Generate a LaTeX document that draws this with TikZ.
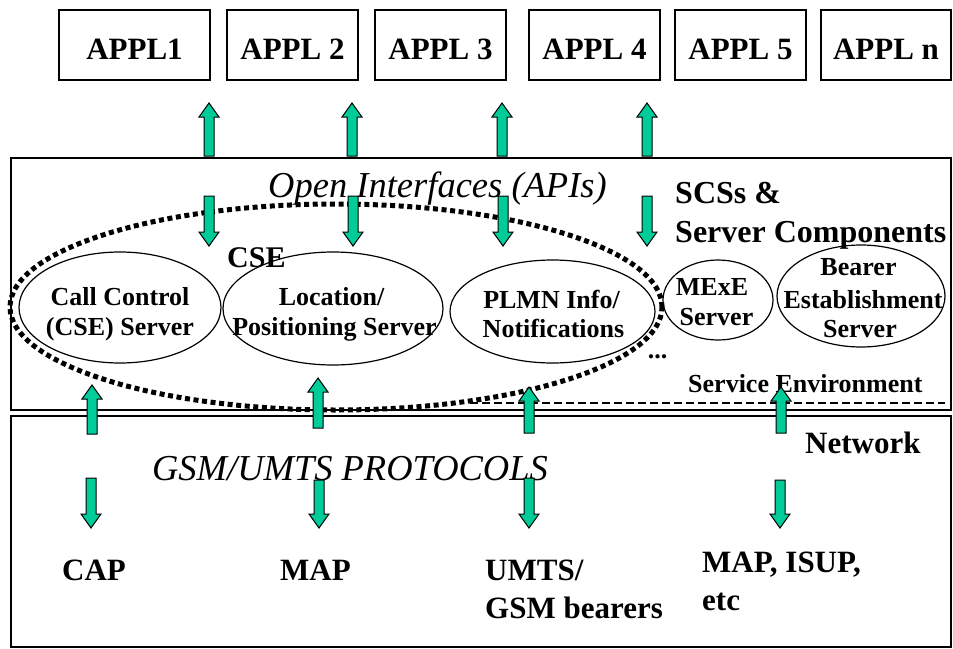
\documentclass[tikz,border=0pt]{standalone}
\usepackage{fontspec}
\setmainfont{Liberation Serif}
\usetikzlibrary{shapes.geometric}
\definecolor{arrgreen}{RGB}{0,204,153}
\newcommand\UpArr[3]{%
  \draw[blk] ({#1-5},#2) -- ({#1-5},{#3+14}) -- ({#1-10},{#3+14}) -- (#1,#3) -- ({#1+10},{#3+14}) -- ({#1+5},{#3+14}) -- ({#1+5},#2) -- cycle;}
\newcommand\DnArr[3]{%
  \draw[blk] ({#1-5},#2) -- ({#1-5},{#3-14}) -- ({#1-10},{#3-14}) -- (#1,#3) -- ({#1+10},{#3-14}) -- ({#1+5},{#3-14}) -- ({#1+5},#2) -- cycle;}
\begin{document}
\begin{tikzpicture}[x=1pt,y=-1pt,
  box/.style={draw, line width=1.2pt, rectangle, inner sep=0pt},
  appl/.style={box, minimum width=131pt, minimum height=70pt, font=\fontsize{31}{37}\selectfont\bfseries, text height=28pt, text depth=0pt},
  ell/.style={draw, ellipse, line width=1.2pt, inner sep=0pt},
  etxt/.style={font=\fontsize{26}{30}\selectfont\bfseries, anchor=base, inner sep=0pt},
  btxt/.style={font=\fontsize{31}{37}\selectfont\bfseries, inner sep=0pt},
  itxt/.style={font=\fontsize{36.5}{40}\selectfont\itshape, anchor=base, inner sep=0pt},
  blk/.style={draw=black, line width=1pt, fill=arrgreen, line join=miter},
  cseline/.style={draw, ellipse, line width=5pt, dash pattern=on 5pt off 3.6pt, inner sep=0pt},
]
\useasboundingbox (0,0) rectangle (953,648);

% frames
\node[box, minimum width=940pt, minimum height=252pt] (se) at (481,284) {};
\node[box, minimum width=940pt, minimum height=231pt] (nw) at (481,531.5) {};

% applications
\node[appl, minimum width=151pt] (a1) at (134.5,45) {APPL1};
\node[appl] (a2) at (292.5,45) {APPL 2};
\node[appl] (a3) at (440.5,45) {APPL 3};
\node[appl] (a4) at (594.5,45) {APPL 4};
\node[appl] (a5) at (740.5,45) {APPL 5};
\node[appl, minimum width=130pt] (an) at (886,45) {APPL n};

% CSE dotted ellipse
\node[cseline, minimum width=652pt, minimum height=206pt] (cse) at (336,307) {};

% server ellipses
\node[ell, minimum width=202pt, minimum height=111pt] (cc) at (120,307.5) {};
\node[ell, minimum width=220pt, minimum height=113pt] (loc) at (333,308.5) {};
\node[ell, minimum width=205pt, minimum height=103pt] (plmn) at (552.5,311.5) {};
\node[ell, minimum width=110pt, minimum height=80pt] (mexe) at (718,300) {};
\node[ell, minimum width=168pt, minimum height=102pt] (bear) at (861,296) {};

\node[etxt] (cc1) at (120,305) {Call Control};
\node[etxt] (cc2) at (120,335) {(CSE) Server};
\node[etxt] (loc1) at (331.5,305) {Location/};
\node[etxt] (loc2) at (334.5,335) {Positioning Server};
\node[etxt] (pl1) at (551.5,308) {PLMN Info/};
\node[etxt] (pl2) at (553.5,337) {Notifications};
\node[etxt] (me1) at (712,295) {MExE};
\node[etxt] (me2) at (716.5,325) {Server};
\node[etxt] (be1) at (858.5,275) {Bearer};
\node[etxt] (be2) at (863,308) {Establishment};
\node[etxt] (be3) at (860,337) {Server};
\node[etxt] (dots) at (657.5,358) {...};

% labels
\node[itxt] (oi) at (437.5,197) {Open Interfaces (APIs)};
\node[btxt, font=\fontsize{32}{38}\selectfont\bfseries, anchor=base west] (scs1) at (675,203) {SCSs \&};
\node[btxt, font=\fontsize{32}{38}\selectfont\bfseries, anchor=base west] (scs2) at (675,242) {Server Components};
\node[btxt, font=\fontsize{30}{36}\selectfont\bfseries, anchor=base west] (cselbl) at (227,267) {CSE};
\node[etxt, anchor=base west] (senv) at (688,392) {Service Environment};
\coordinate (d1) at (470,403);
\coordinate (d2) at (945,403);
\draw[line width=1.2pt, dash pattern=on 8pt off 4pt] (d1) -- (d2);

\node[itxt] (gsm) at (350,480) {GSM/UMTS PROTOCOLS};
\node[btxt, anchor=base west] (net) at (805,453) {Network};
\node[btxt, anchor=base] (cap) at (94,580) {CAP};
\node[btxt, anchor=base] (map) at (315.5,580) {MAP};
\node[btxt, anchor=base west] (um1) at (485,580) {UMTS/};
\node[btxt, anchor=base west] (um2) at (485,618) {GSM bearers};
\node[btxt, anchor=base west] (mp1) at (702,572) {MAP, ISUP,};
\node[btxt, anchor=base west] (mp2) at (702,610) {etc};

% block arrows
\UpArr{209}{156}{103}
\UpArr{352}{156}{103}
\UpArr{502}{156}{103}
\UpArr{647}{156}{103}
\DnArr{209}{196}{246}
\DnArr{353}{196}{246}
\DnArr{503}{196}{246}
\DnArr{647}{196}{246}
\UpArr{92}{434}{385}
\UpArr{318}{428}{378}
\UpArr{529}{433}{387}
\UpArr{781}{433}{387}
\DnArr{91}{478}{528}
\DnArr{319}{480}{528}
\DnArr{529}{478}{528}
\DnArr{780}{480}{528}
\end{tikzpicture}
\end{document}
